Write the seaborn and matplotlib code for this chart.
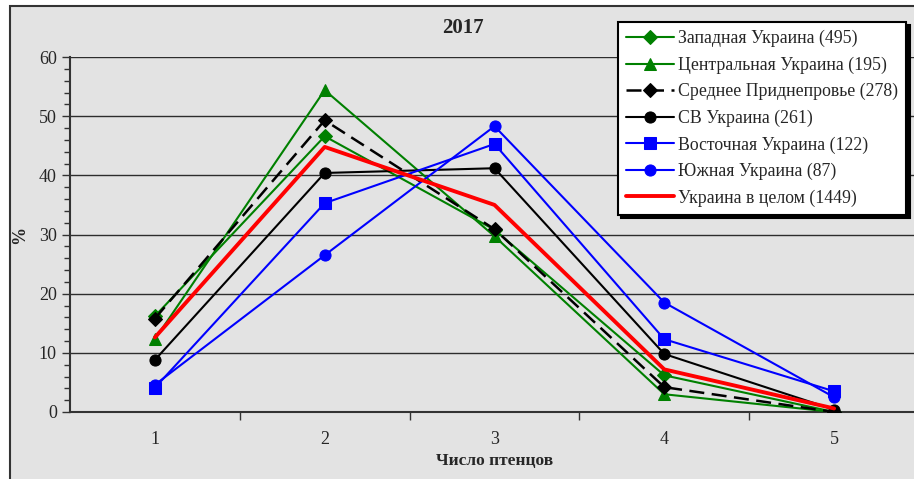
import pandas as pd
import seaborn as sns
import matplotlib.pyplot as plt
from matplotlib.patches import Rectangle
from matplotlib.ticker import MultipleLocator, FixedLocator

# данные
chicks = [1, 2, 3, 4, 5]
regions = ['Западная Украина (495)', 'Центральная Украина (195)', 'Среднее Приднепровье (278)',
           'СВ Украина (261)', 'Восточная Украина (122)', 'Южная Украина (87)', 'Украина в целом (1449)']
west = [16.2, 46.6, 30.8, 6.2, 0.0]
central = [12.3, 54.4, 29.7, 3.0, 0.0]
dnepr = [15.8, 49.3, 30.9, 4.2, 0.0]
northeast = [8.8, 40.4, 41.2, 9.8, 0.4]
east = [4.1, 35.3, 45.3, 12.3, 3.5]
south = [4.6, 26.5, 48.3, 18.5, 2.5]
total = [12.6, 44.8, 35.0, 7.2, 0.6]
values = [west, central, dnepr, northeast, east, south, total]

colors = ['#008000', '#008000', 'black', 'black', '#0000FF', '#0000FF', '#FF0000']
markers = ['D', '^', 'D', 'o', 's', 'o', None]
msizes = [7, 8.5, 7, 8, 8, 8, 0]
lstyles = ['-', '-', (0, (6, 3)), '-', '-', '-', '-']
lwidths = [1.5, 1.5, 1.8, 1.5, 1.5, 1.5, 2.8]

sns.set_theme(style='white')
plt.rcParams['font.family'] = ['Liberation Serif', 'DejaVu Serif']

fig = plt.figure(figsize=(9.14, 4.79), dpi=100)
fig.patch.set_facecolor('white')
frame = Rectangle((10 / 914, -0.01), 1.0, 1 - 6 / 479 + 0.01, transform=fig.transFigure,
                  facecolor='#E3E3E3', edgecolor='#333333', lw=1.5, zorder=-10)
fig.add_artist(frame)

ax = fig.add_axes([70 / 914, 67 / 479, 849 / 914, 355 / 479])
ax.set_facecolor('#E3E3E3')

for name, vals, c, m, ms, ls, lw in zip(regions, values, colors, markers, msizes, lstyles, lwidths):
    df = pd.DataFrame({'x': chicks, 'y': vals})
    sns.lineplot(data=df, x='x', y='y', ax=ax, color=c, marker=m, markersize=ms,
                 markeredgecolor=c, linestyle=ls, linewidth=lw, label=name, zorder=3)

ax.set_xlim(0.5, 5.5)
ax.set_ylim(0, 60)
ax.yaxis.set_major_locator(MultipleLocator(10))
ax.yaxis.set_minor_locator(MultipleLocator(2))
ax.xaxis.set_major_locator(FixedLocator([1.5, 2.5, 3.5, 4.5]))
ax.xaxis.set_minor_locator(FixedLocator(chicks))
ax.set_xticklabels([])
ax.set_xticklabels([str(c) for c in chicks], minor=True)
ax.tick_params(axis='x', which='major', direction='out', length=6, width=1, color='#333333', bottom=True)
ax.tick_params(axis='x', which='minor', length=0, pad=14, labelsize=13, bottom=True)
ax.tick_params(axis='y', which='both', direction='out', left=True, color='#333333', labelsize=13)
ax.tick_params(axis='y', which='major', length=6, width=1)
ax.tick_params(axis='y', which='minor', length=4, width=1)
ax.grid(axis='y', which='major', color='black', lw=1, alpha=0.8)
for s in ['top', 'right']:
    ax.spines[s].set_visible(False)
for s in ['left', 'bottom']:
    ax.spines[s].set_color('#333333')
    ax.spines[s].set_linewidth(1.5)

ax.set_xlabel('Число птенцов', fontsize=12.5, fontweight='bold', labelpad=3)
ax.set_ylabel('%', fontsize=13, fontweight='bold', labelpad=8)
fig.text(463 / 914, 1 - 28 / 479, '2017', ha='center', va='center', fontsize=15, fontweight='bold')

leg = ax.legend(loc='upper left', bbox_to_anchor=(618 / 914, 1 - 22 / 479), bbox_transform=fig.transFigure,
                fontsize=12.8, frameon=True, fancybox=False, framealpha=1, handlelength=2.7,
                handletextpad=0.25, labelspacing=0.52, borderpad=0.45, borderaxespad=0,
                shadow={'color': 'black', 'alpha': 1, 'ox': 2.5, 'oy': -2.5})
leg.get_frame().set_edgecolor('black')
leg.get_frame().set_linewidth(1.5)
leg.get_frame().set_facecolor('white')

fig.savefig('out.png', dpi=100)
